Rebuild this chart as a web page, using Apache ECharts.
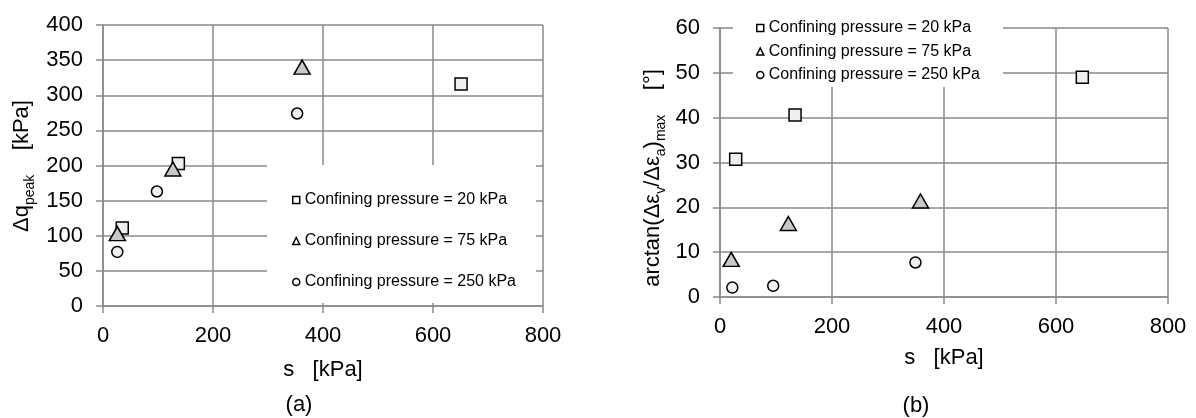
<!DOCTYPE html>
<html>
<head>
<meta charset="utf-8">
<script src="https://cdn.jsdelivr.net/npm/echarts@6/dist/echarts.min.js"></script>
<style>
  html, body { margin: 0; padding: 0; background: #fff; }
  #chart { width: 1196px; height: 418px; }
</style>
</head>
<body>
<div id="chart"></div>
<script>
let myChart = echarts.init(document.getElementById('chart'))

// series names
const names = ['Confining pressure = 20 kPa', 'Confining pressure = 75 kPa', 'Confining pressure = 250 kPa']

// (a) s [kPa] vs peak deviator stress increase [kPa]
const sA20 = [35, 137, 651]
const qA20 = [111, 203, 316]
const sA75 = [26, 127, 362]
const qA75 = [103, 195, 340]
const sA250 = [26, 98, 353]
const qA250 = [77, 163, 274]

// (b) s [kPa] vs max dilatancy angle [deg]
const sB20 = [28, 134, 647]
const angB20 = [30.7, 40.6, 49]
const sB75 = [20, 122, 358]
const angB75 = [8.4, 16.4, 21.4]
const sB250 = [22, 95, 349]
const angB250 = [2.1, 2.5, 7.7]

const font = 'Liberation Sans, Arial, sans-serif'
const gray = '#8a8a8a'

function pairs(xs, ys) {
  return xs.map((x, i) => [x, ys[i]])
}

// marker styles
const marks = [
  { symbol: 'rect', symbolSize: 12, color: '#efefef' },
  { symbol: 'triangle', symbolSize: [16, 14], color: '#c8c8c8' },
  { symbol: 'circle', symbolSize: 11, color: '#f0f0f0' }
]

function scatter(i, idx, xs, ys) {
  return {
    name: names[i],
    type: 'scatter',
    xAxisIndex: idx,
    yAxisIndex: idx,
    symbol: marks[i].symbol,
    symbolSize: marks[i].symbolSize,
    itemStyle: { color: marks[i].color, borderColor: '#000', borderWidth: 1.5, opacity: 1 },
    data: pairs(xs, ys),
    z: 5
  }
}

function xAx(idx, gap) {
  return {
    gridIndex: idx,
    type: 'value',
    min: 0, max: 800, interval: 200,
    name: 's   [kPa]',
    nameLocation: 'middle',
    nameGap: gap,
    nameTextStyle: { fontFamily: font, fontSize: 22, color: '#000' },
    axisLine: { show: true, lineStyle: { color: gray, width: 1.5 } },
    axisTick: { show: true, length: 7, lineStyle: { color: gray, width: 1.5 } },
    axisLabel: { margin: 19, fontFamily: font, fontSize: 22, color: '#000' },
    splitLine: { show: true, lineStyle: { color: gray, width: 1.5 } }
  }
}

function yAx(idx, max, step) {
  return {
    gridIndex: idx,
    type: 'value',
    min: 0, max: max, interval: step,
    axisLine: { show: true, lineStyle: { color: gray, width: 1.5 } },
    axisTick: { show: true, length: 7, lineStyle: { color: gray, width: 1.5 } },
    axisLabel: { margin: 20, fontFamily: font, fontSize: 22, color: '#000' },
    splitLine: { show: true, lineStyle: { color: gray, width: 1.5 } }
  }
}

// legend items: small outlined symbols
const legendData = [
  { name: names[0], icon: 'rect', itemStyle: { color: '#fff', borderColor: '#000', borderWidth: 1.5 } },
  { name: names[1], icon: 'triangle', itemStyle: { color: '#fff', borderColor: '#000', borderWidth: 1.5 } },
  { name: names[2], icon: 'circle', itemStyle: { color: '#fff', borderColor: '#000', borderWidth: 1.5 } }
]

function legend(left, top, gap) {
  return {
    orient: 'vertical',
    left: left, top: top,
    padding: 0,
    itemGap: gap,
    itemWidth: 7, itemHeight: 7,
    selectedMode: false,
    textStyle: { fontFamily: font, fontSize: 16, color: '#000', lineHeight: 17 },
    data: legendData,
    z: 10
  }
}

const rich = {
  a: { fontFamily: font, fontSize: 22, lineHeight: 30, color: '#000', verticalAlign: 'middle' },
  s: { fontFamily: font, fontSize: 14, lineHeight: 14, color: '#000', verticalAlign: 'bottom' }
}

let opt = {
  animation: false,
  backgroundColor: '#fff',
  grid: [
    { left: 103, top: 25, width: 440, height: 281 },
    { left: 720, top: 28, width: 448, height: 269 }
  ],
  xAxis: [xAx(0, 53), xAx(1, 50)],
  yAxis: [yAx(0, 400, 50), yAx(1, 60, 10)],
  legend: [legend(292, 191.5, 24), legend(756, 19.5, 6.5)],
  graphic: [
    // white legend boxes covering gridlines
    { type: 'rect', shape: { x: 267, y: 165, width: 269, height: 138 }, style: { fill: '#fff' }, z: 3 },
    { type: 'rect', shape: { x: 733, y: 0, width: 270, height: 87 }, style: { fill: '#fff' }, z: 3 },
    // y axis titles
    {
      type: 'text', x: 22, y: 166, rotation: Math.PI / 2, z: 10,
      style: { text: '{a|Δq}{s|peak}{a|    [kPa]}', rich: rich, align: 'center', verticalAlign: 'middle' }
    },
    {
      type: 'text', x: 653, y: 178, rotation: Math.PI / 2, z: 10,
      style: { text: '{a|arctan(Δε}{s|v}{a|/Δε}{s|a}{a|)}{s|max}{a|    [°]}', rich: rich, align: 'center', verticalAlign: 'middle' }
    },
    // panel captions
    { type: 'text', x: 299, y: 405, z: 10, style: { text: '(a)', fontFamily: font, fontSize: 22, fill: '#000', align: 'center', verticalAlign: 'middle' } },
    { type: 'text', x: 916, y: 406, z: 10, style: { text: '(b)', fontFamily: font, fontSize: 22, fill: '#000', align: 'center', verticalAlign: 'middle' } }
  ],
  series: [
    scatter(0, 0, sA20, qA20),
    scatter(1, 0, sA75, qA75),
    scatter(2, 0, sA250, qA250),
    scatter(0, 1, sB20, angB20),
    scatter(1, 1, sB75, angB75),
    scatter(2, 1, sB250, angB250)
  ]
}

myChart.setOption(opt)
</script>
</body>
</html>
